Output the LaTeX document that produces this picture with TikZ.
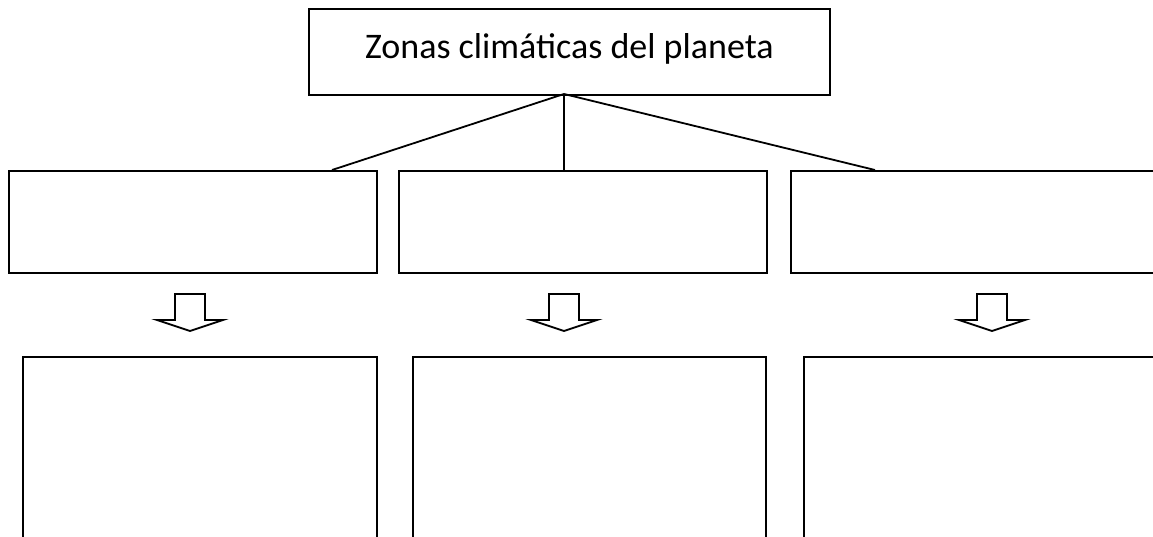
\documentclass[tikz,border=0pt]{standalone}
\usepackage{fontspec}
\setmainfont{Carlito}
\begin{document}
\begin{tikzpicture}[x=1pt,y=-1pt,
  box/.style={draw, line width=1.8pt, inner sep=0pt, anchor=north west},
  conn/.style={line width=1.8pt},
  downarrow/.style={line width=1.8pt, line join=miter}]
\useasboundingbox (0,0) rectangle (1153,537);
\clip (0,0) rectangle (1153,537);
% title
\node[box, minimum width=521pt, minimum height=86pt] (title) at (308,8) {};
\node[font=\fontsize{36}{43}\selectfont] (titletext) at ([yshift=3pt]title.center) {Zonas climáticas del planeta};
% middle row
\node[box, minimum width=368pt, minimum height=102pt] (m1) at (8,170) {};
\node[box, minimum width=368pt, minimum height=102pt] (m2) at (398,170) {};
\node[box, minimum width=400pt, minimum height=102pt] (m3) at (790,170) {};
% bottom row
\node[box, minimum width=354pt, minimum height=220pt] (b1) at (22,356) {};
\node[box, minimum width=353pt, minimum height=220pt] (b2) at (412,356) {};
\node[box, minimum width=400pt, minimum height=220pt] (b3) at (803,356) {};
% connectors
\coordinate (hub) at (564,94);
\coordinate (e1) at (332,170);
\coordinate (e2) at (564,170);
\coordinate (e3) at (875,170);
\draw[conn] (hub) -- (e1);
\draw[conn] (hub) -- (e2);
\draw[conn] (hub) -- (e3);
% block arrows
\foreach \cx in {190,564,992}{
  \draw[downarrow] (\cx-15,294) -- (\cx+15,294) -- (\cx+15,320) -- (\cx+33,320)
    -- (\cx,331) -- (\cx-33,320) -- (\cx-15,320) -- cycle;
}
\end{tikzpicture}
\end{document}
